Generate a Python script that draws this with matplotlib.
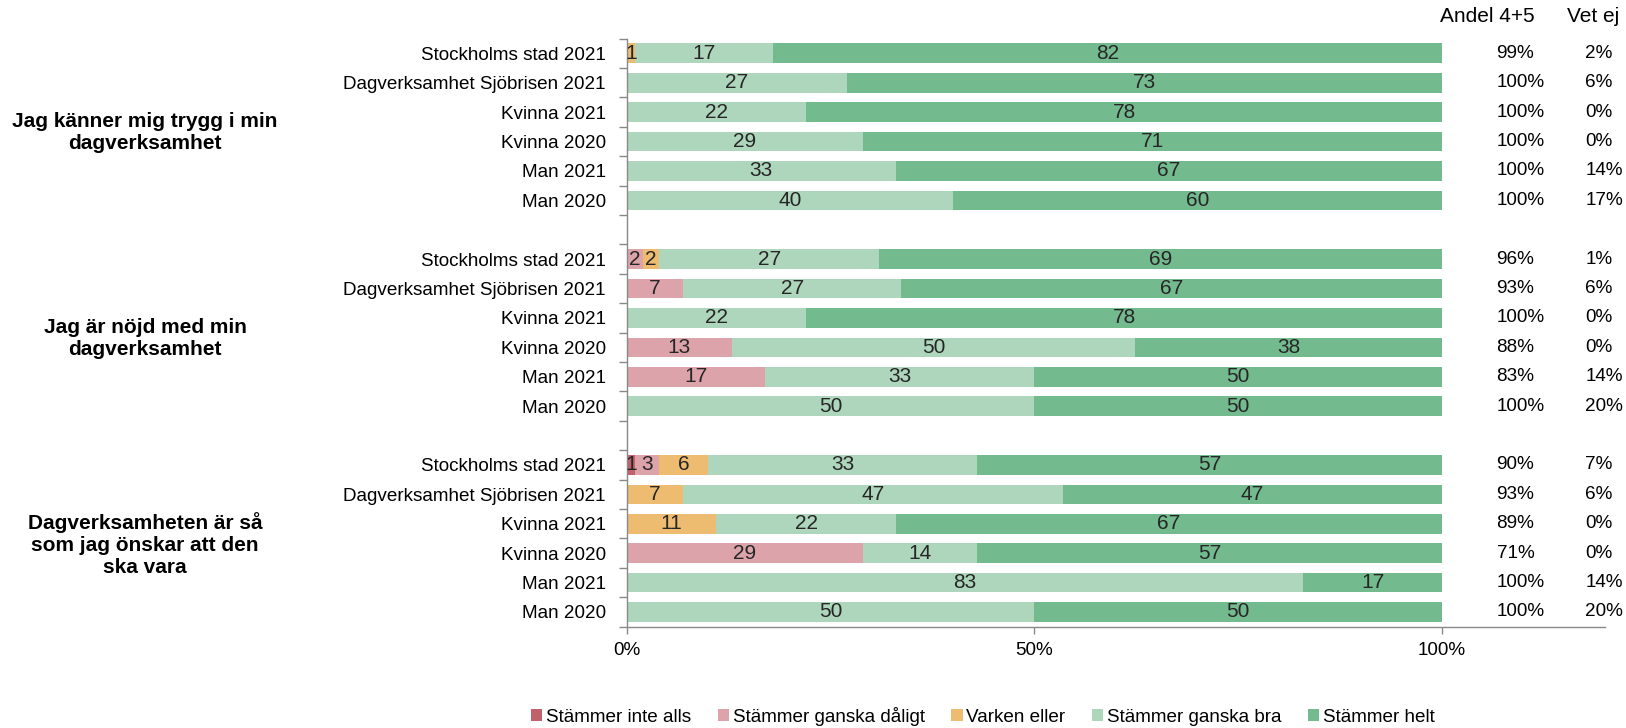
import numpy as np
import matplotlib
matplotlib.use('Agg')
import matplotlib.pyplot as plt
from matplotlib.patches import Patch

plt.rcParams['font.family'] = ['Liberation Sans', 'DejaVu Sans']

# kategorier per fråga
categories = ['Stockholms stad 2021', 'Dagverksamhet Sjöbrisen 2021', 'Kvinna 2021',
              'Kvinna 2020', 'Man 2021', 'Man 2020']
questions = ['Jag känner mig trygg i min\ndagverksamhet',
             'Jag är nöjd med min\ndagverksamhet',
             'Dagverksamheten är så\nsom jag önskar att den\nska vara']

series_names = ['Stämmer inte alls', 'Stämmer ganska dåligt', 'Varken eller',
                'Stämmer ganska bra', 'Stämmer helt']
series_colors = ['#C0616B', '#DCA3AA', '#EDBC71', '#AED6BC', '#74BA8F']

# värden, 18 rader (3 frågor x 6 kategorier)
inte_alls = [0, 0, 0, 0, 0, 0,
             0, 0, 0, 0, 0, 0,
             1, 0, 0, 0, 0, 0]
ganska_daligt = [0, 0, 0, 0, 0, 0,
                 2, 7, 0, 13, 17, 0,
                 3, 0, 0, 29, 0, 0]
varken = [1, 0, 0, 0, 0, 0,
          2, 0, 0, 0, 0, 0,
          6, 7, 11, 0, 0, 0]
ganska_bra = [17, 27, 22, 29, 33, 40,
              27, 27, 22, 50, 33, 50,
              33, 47, 22, 14, 83, 50]
helt = [82, 73, 78, 71, 67, 60,
        69, 67, 78, 38, 50, 50,
        57, 47, 67, 57, 17, 50]

andel45 = ['99%', '100%', '100%', '100%', '100%', '100%',
           '96%', '93%', '100%', '88%', '83%', '100%',
           '90%', '93%', '89%', '71%', '100%', '100%']
vet_ej = ['2%', '6%', '0%', '0%', '14%', '17%',
          '1%', '6%', '0%', '0%', '14%', '20%',
          '7%', '6%', '0%', '0%', '14%', '20%']

W, H = 1626, 728
fig = plt.figure(figsize=(W / 100, H / 100), dpi=100)
ax = fig.add_axes([626.7 / W, 1 - 626.7 / H, (1605 - 626.7) / W, (626.7 - 38.6) / H])

data = np.array([inte_alls, ganska_daligt, varken, ganska_bra, helt], dtype=float)
totals = data.sum(axis=0)

# radpositioner med tom rad mellan grupperna
rows = []
for g in range(3):
    for i in range(6):
        rows.append(g * 7 + i)
rows = np.array(rows)

left = np.zeros(len(rows))
for s in range(5):
    widths = data[s] / totals
    ax.barh(rows, widths, left=left, height=0.667, color=series_colors[s], linewidth=0)
    for r, l, w, v in zip(rows, left, widths, data[s]):
        if v > 0:
            ax.text(l + w / 2, r, '%d' % v, ha='center', va='center',
                    fontsize=15, color='#262626')
    left = left + widths

ax.set_xlim(0, 1.2)
ax.set_ylim(19.5, -0.5)

ax.set_yticks(rows)
ax.set_yticklabels(categories * 3, fontsize=13.6)
ax.set_yticks(np.arange(-0.5, 20, 1), minor=True)
ax.tick_params(axis='y', which='major', length=0, pad=15)
ax.tick_params(axis='y', which='minor', length=6, width=1, color='#898989')

ax.set_xticks([0, 0.5, 1.0])
ax.set_xticklabels(['0%', '50%', '100%'], fontsize=13.6)
ax.tick_params(axis='x', length=5, width=1, color='#898989', pad=6)

for side in ['top', 'right']:
    ax.spines[side].set_visible(False)
for side in ['left', 'bottom']:
    ax.spines[side].set_color('#898989')
    ax.spines[side].set_linewidth(1)

# kolumner till höger
ax.text(0.997, -1.245, 'Andel 4+5', ha='left', va='center', fontsize=15, clip_on=False)
ax.text(1.154, -1.245, 'Vet ej', ha='left', va='center', fontsize=15, clip_on=False)
for r, a, v in zip(rows, andel45, vet_ej):
    ax.text(1.067, r, a, ha='left', va='center', fontsize=13.6)
    ax.text(1.176, r, v, ha='left', va='center', fontsize=13.6)

# frågetexter
for g, q in enumerate(questions):
    yc = 53.3 + (g * 7 + 2.5) * 29.4 + 6
    fig.text(145 / W, 1 - yc / H, q, ha='center', va='center', fontsize=15,
             fontweight='bold', linespacing=1.2)

handles = [Patch(facecolor=c, edgecolor='none') for c in series_colors]
fig.legend(handles, series_names, loc='center', bbox_to_anchor=(983 / W, 1 - 716 / H),
           ncol=5, frameon=False, fontsize=13.6, handlelength=0.6, handleheight=0.6,
           handletextpad=0.2, columnspacing=1.4)

fig.savefig('out.png', dpi=100)
